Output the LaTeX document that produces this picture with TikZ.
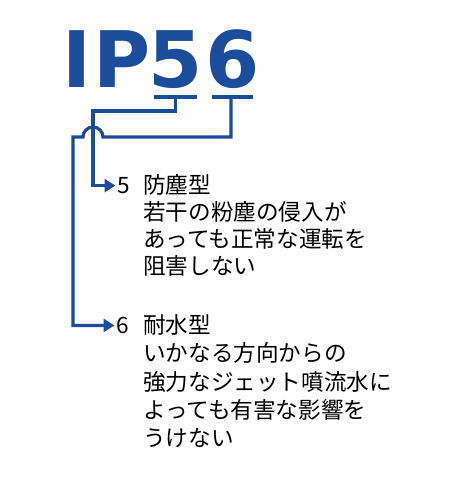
\documentclass[tikz,border=0pt]{standalone}
\usepackage{fontspec}
\setmainfont{Noto Sans CJK JP}
\newfontfamily\ipfont{DejaVu Sans}
\usepackage{tikz}
\usetikzlibrary{arrows.meta}
\definecolor{ipblue}{HTML}{1A4D9B}

\begin{document}
\begin{tikzpicture}[x = 1pt, y = 1pt,
    glyph/.style = {anchor = base, inner sep = 0pt, text = ipblue, font = \ipfont\bfseries\fontsize{78}{78}\selectfont},
    conn/.style = {draw = ipblue, line width = 3.2pt},
    tip/.style = {-{Triangle[length = 11pt, width = 13pt]}, shorten > = 2pt},
    num/.style = {anchor = base west, inner sep = 0pt, font = \fontsize{22.6}{27}\selectfont},
    desc/.style = {anchor = base west, inner sep = 0pt, align = left}]

    \useasboundingbox (0, 0) rectangle (455, -500);

    % IP56
    \node[glyph] (chI) at (77, -88) {I};
    \node[glyph] (chP) at (122, -88) {P};
    \node[glyph] (ch5) at (175.5, -88) {5};
    \node[glyph] (ch6) at (232.5, -88) {6};

    % underlines
    \draw [conn] (154, -97) -- (197, -97);
    \draw [conn] (212, -97) -- (253, -97);
    \coordinate (u5) at (175.5, -97);
    \coordinate (u6) at (231, -97);

    % codes (base of a multi-line node = base of its last line)
    \node[num] (num5) at (117.5, -193.5) {5};
    \node[desc, font = \fontsize{22.6}{27}\selectfont] (txt5) at (143, -274.5) {防塵型\\若干の粉塵の侵入が\\あっても正常な運転を\\阻害しない};
    \node[num] (num6) at (116.5, -333.5) {6};
    \node[desc, font = \fontsize{22.6}{28.3}\selectfont] (txt6) at (143, -446.7) {耐水型\\いかなる方向からの\\強力なジェット噴流水に\\よっても有害な影響を\\うけない};

    % connectors
    \coordinate (bend5) at (93, -111);
    \coordinate (hop6) at (103, -137);
    \coordinate (bend6) at (73, -137);
    \draw [conn, tip] (u5) |- (bend5) |- (num5.west);
    \draw [conn, tip] (u6) |- (hop6) arc[start angle = 0, end angle = 180, radius = 10pt] -- (bend6) |- (num6.west);

\end{tikzpicture}
\end{document}
